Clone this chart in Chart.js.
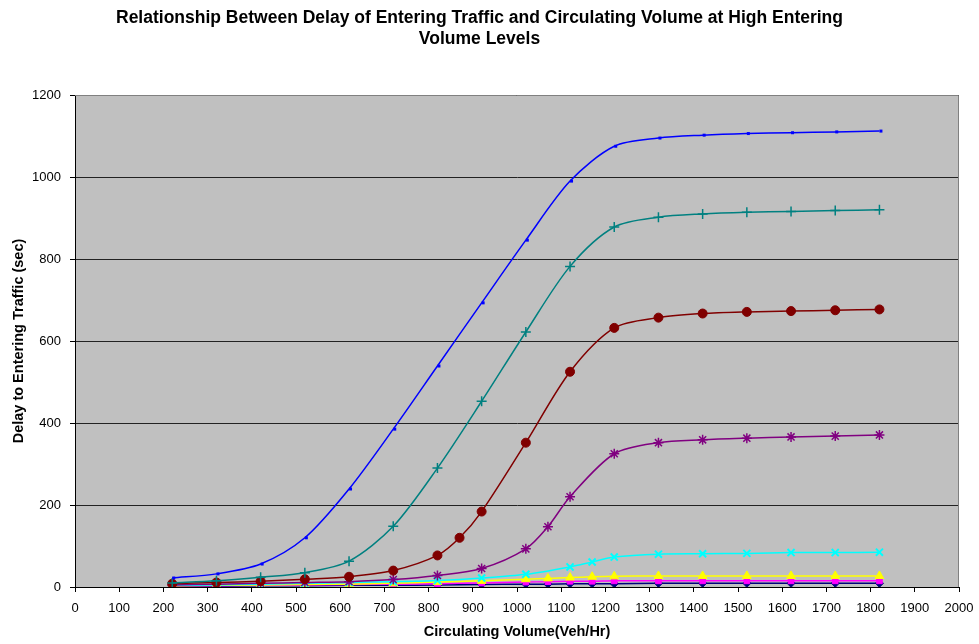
<!DOCTYPE html>
<html>
<head>
<meta charset="utf-8">
<script src="https://cdn.jsdelivr.net/npm/chart.js@4/dist/chart.umd.min.js"></script>
<style>
  html, body { margin: 0; padding: 0; background: #fff; }
  #wrap { width: 979px; height: 644px; }
</style>
</head>
<body>
<div id="wrap"><canvas id="chart" width="979" height="644"></canvas></div>
<script>
// Circulating volume points (veh/hr) per series
const xBase = [220, 320, 420, 520, 620, 720, 820, 920, 1020, 1070, 1120, 1170, 1220, 1320, 1420, 1520, 1620, 1720, 1820];
const xCyan = [220, 320, 420, 520, 620, 720, 820, 920, 1020, 1120, 1170, 1220, 1320, 1420, 1520, 1620, 1720, 1820];
const xPurple = [220, 320, 420, 520, 620, 720, 820, 920, 1020, 1070, 1120, 1220, 1320, 1420, 1520, 1620, 1720, 1820];
const xRed = [220, 320, 420, 520, 620, 720, 820, 870, 920, 1020, 1120, 1220, 1320, 1420, 1520, 1620, 1720, 1820];
const xMain = [220, 320, 420, 520, 620, 720, 820, 920, 1020, 1120, 1220, 1320, 1420, 1520, 1620, 1720, 1820];

// Delay values (sec)
const navyDelay    = [2, 2, 3, 3, 4, 4, 5, 6, 7, 7, 8, 8, 8, 9, 9, 9, 9, 9, 9];
const magentaDelay = [3, 3, 4, 5, 6, 7, 8, 10, 12, 13, 14, 14, 15, 15, 15, 15, 15, 15, 15];
const yellowDelay  = [3, 4, 5, 6, 7, 9, 12, 15, 19, 21, 23, 25, 26, 27, 27, 27, 27, 27, 27];
const cyanDelay    = [4, 5, 7, 9, 11, 13, 16, 22, 31, 49, 61, 73, 80, 81, 82, 84, 84, 85];
const purpleDelay  = [5, 7, 9, 11, 13, 18, 28, 45, 93, 147, 220, 325, 352, 359, 363, 366, 368, 371];
const redDelay     = [8, 11, 14, 19, 25, 40, 77, 120, 184, 352, 525, 632, 657, 667, 671, 673, 675, 677];
const tealDelay    = [10, 15, 24, 35, 63, 148, 290, 453, 622, 782, 878, 902, 910, 914, 916, 918, 920];
const blueDelay    = [22, 32, 56, 120, 239, 385, 539, 693, 846, 990, 1075, 1095, 1102, 1106, 1108, 1110, 1112];

const pts = (xs, ys) => xs.map((x, i) => ({ x: x, y: ys[i] }));
const FONT = 'Liberation Sans, Arial, sans-serif';

function series(xs, ys, color, style, radius, pw) {
    return {
        data: pts(xs, ys),
        borderColor: color,
        backgroundColor: color,
        pointBorderColor: color,
        pointBackgroundColor: color,
        pointStyle: style,
        pointRadius: radius,
        pointBorderWidth: pw,
        borderWidth: 1.5,
        tension: 0.3,
        showLine: true,
        fill: false
    };
}

const plotBg = {
    id: 'plotBg',
    beforeDraw(chart) {
        const a = chart.chartArea, ctx = chart.ctx;
        ctx.save();
        ctx.fillStyle = '#c0c0c0';
        ctx.fillRect(a.left, a.top, a.right - a.left, a.bottom - a.top);
        ctx.restore();
    },
    afterDatasetsDraw(chart) {
        const a = chart.chartArea, ctx = chart.ctx;
        ctx.save();
        ctx.strokeStyle = '#808080';
        ctx.lineWidth = 1;
        ctx.beginPath();
        ctx.moveTo(a.left, a.top + 0.5);
        ctx.lineTo(a.right - 0.5, a.top + 0.5);
        ctx.lineTo(a.right - 0.5, a.bottom);
        ctx.stroke();
        ctx.restore();
    }
};

const ctx = document.getElementById('chart').getContext('2d');
new Chart(ctx, {
    type: 'scatter',
    data: {
        datasets: [
            series(xMain, blueDelay, '#0000ff', 'dash', 3, 3),
            series(xMain, tealDelay, '#008080', 'cross', 5, 1.5),
            series(xRed, redDelay, '#800000', 'circle', 4.5, 1),
            series(xPurple, purpleDelay, '#800080', 'star', 5, 1.5),
            series(xCyan, cyanDelay, '#00ffff', 'crossRot', 5, 2),
            series(xBase, yellowDelay, '#ffff00', 'triangle', 5, 1),
            series(xBase, magentaDelay, '#ff00ff', 'rect', 4, 1),
            series(xBase, navyDelay, '#000080', 'rectRot', 4, 1)
        ]
    },
    options: {
        responsive: false,
        animation: false,
        layout: { padding: { left: 0, right: 20, top: 0, bottom: 0 } },
        plugins: {
            legend: { display: false },
            tooltip: { enabled: false },
            title: {
                display: true,
                text: ['Relationship Between Delay of Entering Traffic and Circulating Volume at High Entering', 'Volume Levels'],
                color: '#000',
                font: { family: FONT, size: 17.5, weight: 'bold', lineHeight: 1.2 },
                padding: { top: 8, bottom: 45 }
            }
        },
        scales: {
            x: {
                type: 'linear',
                min: 0,
                max: 2000,
                ticks: {
                    stepSize: 100,
                    color: '#000',
                    padding: 9,
                    maxRotation: 0,
                    autoSkip: false,
                    callback: v => String(v),
                    font: { family: FONT, size: 13 }
                },
                grid: { drawOnChartArea: false, drawTicks: true, tickLength: 5, color: '#000' },
                border: { display: true, color: '#000', width: 1 },
                title: {
                    display: true,
                    text: 'Circulating Volume(Veh/Hr)',
                    color: '#000',
                    font: { family: FONT, size: 14.5, weight: 'bold' },
                    padding: { top: 0, bottom: 3 }
                },
                afterFit(scale) {
                    scale.height = 57;
                    scale.paddingRight = 0;
                    scale.paddingLeft = 0;
                }
            },
            y: {
                min: 0,
                max: 1200,
                ticks: {
                    stepSize: 200,
                    color: '#000',
                    padding: 9,
                    callback: v => String(v),
                    font: { family: FONT, size: 13 }
                },
                grid: { color: '#222', tickColor: '#000', drawTicks: true, tickLength: 5, lineWidth: 1 },
                border: { display: true, color: '#000', width: 1 },
                title: {
                    display: true,
                    text: 'Delay to Entering Traffic (sec)',
                    color: '#000',
                    font: { family: FONT, size: 14.5, weight: 'bold' },
                    padding: { top: 10, bottom: 0 }
                },
                afterFit(scale) { scale.width = 75; }
            }
        }
    },
    plugins: [plotBg]
});
</script>
</body>
</html>
